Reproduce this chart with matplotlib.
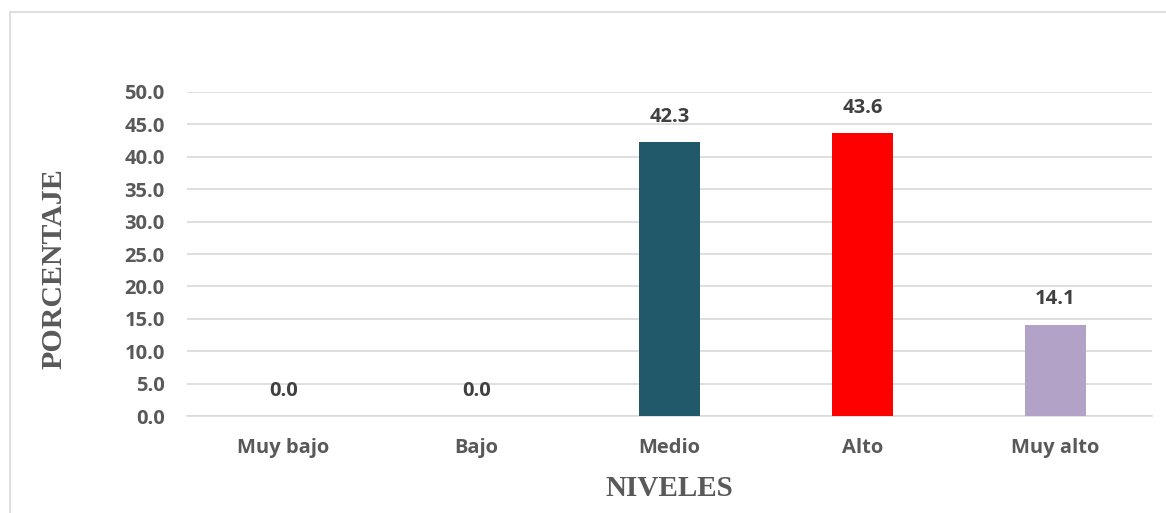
import matplotlib.pyplot as plt
from matplotlib.patches import Rectangle

niveles = ["Muy bajo", "Bajo", "Medio", "Alto", "Muy alto"]
porcentaje = [0.0, 0.0, 42.3, 43.6, 14.1]
colores = ["#22596A", "#22596A", "#22596A", "#FF0000", "#B2A2C7"]
yticks = [0, 5, 10, 15, 20, 25, 30, 35, 40, 45, 50]

fig = plt.figure(figsize=(11.66, 5.13), dpi=100)
ax = fig.add_axes([0.1604, 0.189, 0.8276, 0.6317])

# chart frame (clipped on the right and bottom like the original)
fig.patches.append(Rectangle((10 / 1166, -0.1), 1.2, 1.1 - 12 / 513,
                             transform=fig.transFigure, fill=False,
                             edgecolor="#D9D9D9", linewidth=1.2))

x = range(len(niveles))
bars = ax.bar(x, porcentaje, width=0.316, color=colores, zorder=3)

for b, v in zip(bars, porcentaje):
    ax.annotate(f"{v:.1f}", (b.get_x() + b.get_width() / 2, v),
                xytext=(0, 11), textcoords="offset points",
                ha="center", va="bottom", fontsize=14.5, fontweight="bold",
                color="#404040", family="Open Sans")

ax.set_xlim(-0.5, 4.5)
ax.set_ylim(0, 50)
ax.set_yticks(yticks)
ax.set_yticklabels([f"{t:.1f}" for t in yticks])
ax.set_xticks(list(x))
ax.set_xticklabels(niveles)
ax.grid(axis="y", color="#D9D9D9", linewidth=1.2, zorder=0)
ax.tick_params(length=0, labelsize=14.5, colors="#595959")
ax.tick_params(axis="y", pad=16)
ax.tick_params(axis="x", pad=16)
for lab in ax.get_xticklabels() + ax.get_yticklabels():
    lab.set_fontweight("bold")
    lab.set_family("Open Sans")

for s in ["top", "right", "left"]:
    ax.spines[s].set_visible(False)
ax.spines["bottom"].set_color("#D9D9D9")
ax.spines["bottom"].set_linewidth(1.2)

ax.set_xlabel("NIVELES", family="Liberation Serif", fontweight="bold",
              fontsize=21, color="#595959", labelpad=12)
ax.set_ylabel("PORCENTAJE", family="Liberation Serif", fontweight="bold",
              fontsize=21.5, color="#595959")
ax.yaxis.set_label_coords(-0.1240, 0.4537)

fig.savefig("out.png", dpi=100)
